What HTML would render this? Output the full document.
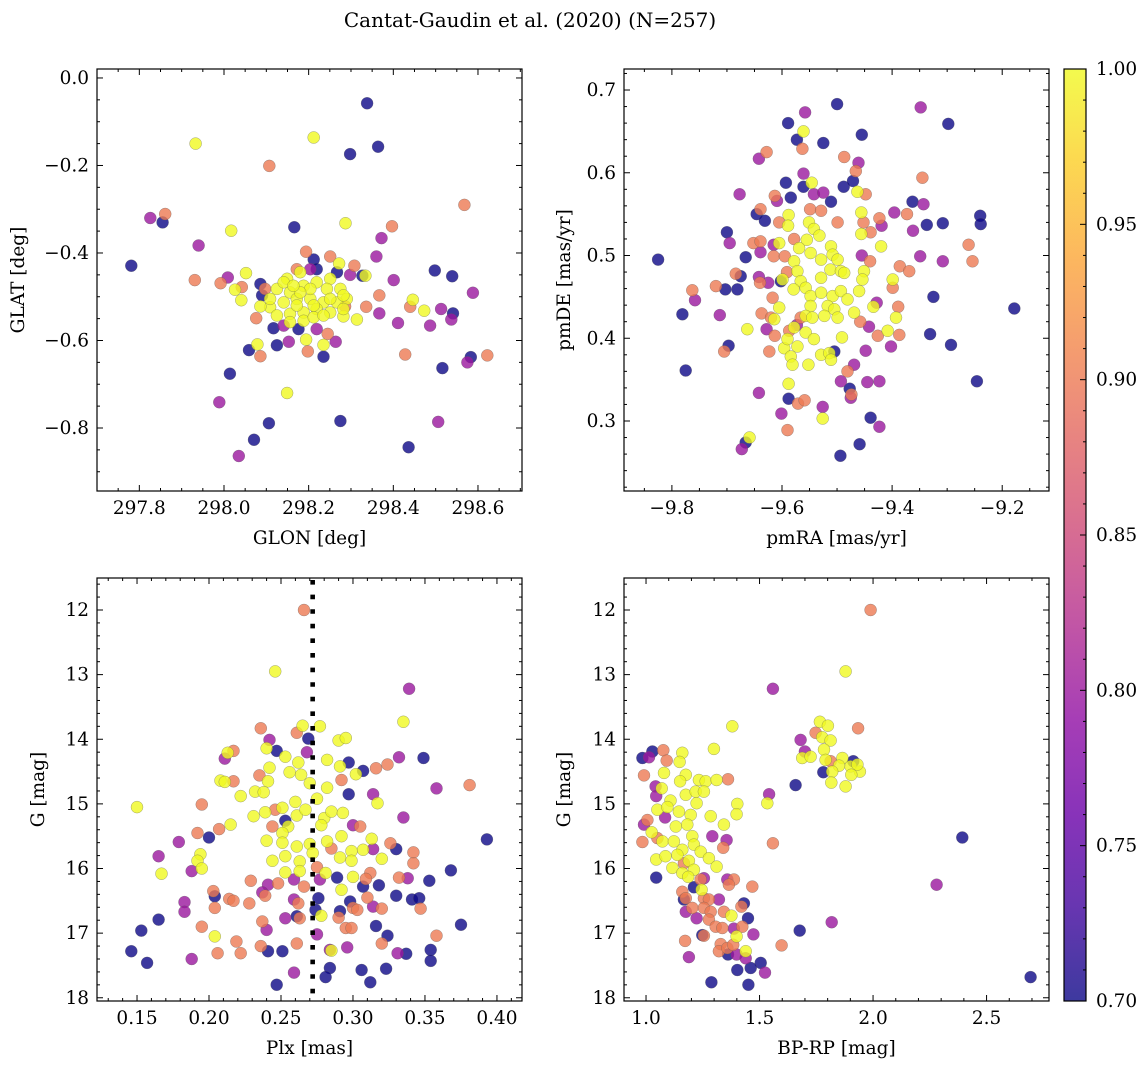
<!DOCTYPE html>
<html><head><meta charset="utf-8">
<style>
html,body{margin:0;padding:0;background:#fff;}
svg{display:block;font-family:"DejaVu Serif","Liberation Serif",serif;}
</style></head>
<body>
<svg id="fig" width="1148" height="1068" viewBox="0 0 1148 1068" xmlns="http://www.w3.org/2000/svg">
<text x="530" y="27" font-size="20" text-anchor="middle">Cantat-Gaudin et al. (2020) (N=257)</text>
</svg>
<script>
// ---------- Panel 1: GLON / GLAT ----------
const glon = [298.338,298.212,297.933,298.298,298.364,298.107,298.568,297.826,297.861,297.855,298.017,298.166,298.287,298.397,298.372,297.940,298.360,297.781,298.498,298.539,298.401,297.931,297.992,298.009,298.052,298.588,298.026,298.041,298.042,
298.272,298.308,298.298,298.327,298.334,298.367,298.336,298.367,298.446,298.440,298.473,298.513,298.541,298.537,298.487,298.411,298.314,298.282,298.079,298.059,298.086,298.125,298.153,298.194,298.198,298.235,298.235,298.264,298.245,298.428,298.516,298.583,298.575,298.622,298.014,298.149,297.989,298.106,298.275,298.506,298.071,298.436,298.035,
298.086,298.090,298.212,298.219,298.267,298.117,298.176,298.194,298.251,298.172,298.097,298.076,298.286,298.204,298.141,298.219,
298.149,298.180,298.125,298.156,298.188,298.219,298.251,298.243,298.275,298.290,298.109,298.141,298.172,298.204,298.235,298.267,298.086,298.125,298.156,298.188,298.219,298.251,298.282,298.156,298.188,298.212,298.172,298.204,298.141,298.235,298.109,298.180,298.251,298.282,298.212,298.164];
const glat = [-0.058,-0.136,-0.150,-0.174,-0.157,-0.201,-0.290,-0.320,-0.311,-0.330,-0.349,-0.341,-0.332,-0.339,-0.366,-0.383,-0.408,-0.429,-0.440,-0.453,-0.462,-0.462,-0.469,-0.456,-0.446,-0.491,-0.484,-0.508,-0.478,
-0.424,-0.429,-0.450,-0.452,-0.452,-0.497,-0.523,-0.538,-0.507,-0.523,-0.532,-0.528,-0.538,-0.552,-0.566,-0.560,-0.552,-0.545,-0.609,-0.622,-0.636,-0.611,-0.603,-0.598,-0.625,-0.637,-0.610,-0.603,-0.585,-0.632,-0.663,-0.638,-0.650,-0.634,-0.676,-0.720,-0.741,-0.789,-0.784,-0.786,-0.827,-0.844,-0.864,
-0.471,-0.497,-0.415,-0.437,-0.444,-0.572,-0.574,-0.397,-0.408,-0.437,-0.482,-0.549,-0.522,-0.437,-0.566,-0.574,
-0.459,-0.444,-0.482,-0.490,-0.475,-0.467,-0.459,-0.482,-0.482,-0.505,-0.524,-0.513,-0.505,-0.505,-0.513,-0.513,-0.522,-0.543,-0.539,-0.536,-0.528,-0.536,-0.528,-0.558,-0.555,-0.547,-0.520,-0.482,-0.467,-0.543,-0.505,-0.490,-0.505,-0.497,-0.520,-0.475];
const prob1 = [0.70,1,1,0.70,0.70,0.90,0.90,0.80,0.90,0.70,1,0.70,1,0.90,0.80,0.80,0.80,0.70,0.70,0.70,0.80,0.90,0.90,0.80,1,0.80,1,1,0.90,
1,0.90,0.80,0.70,1,0.90,0.90,0.80,1,0.90,1,0.80,0.70,0.80,0.80,0.80,1,1,1,0.70,0.90,0.70,0.80,1,0.90,0.70,1,0.80,0.90,0.90,0.70,0.70,0.80,0.90,0.70,1,0.80,0.70,0.70,0.80,0.70,0.70,0.80,
0.70,0.70,0.70,0.70,0.70,0.70,0.70,0.90,0.90,0.90,0.90,0.90,0.90,0.80,0.80,0.80,
1,1,1,1,1,1,1,1,1,1,1,1,1,1,1,1,1,1,1,1,1,1,1,1,1,1,1,1,1,1,1,1,1,1,1,1];

// ---------- Panel 2: pmRA / pmDE ----------
const pmra = [-9.500,-9.348,-9.558,-9.298,-9.589,-9.561,-9.455,-9.573,-9.525,-9.563,-9.628,-9.642,-9.487,-9.461,-9.466,-9.561,-9.345,-9.593,-9.546,-9.561,-9.488,-9.471,-9.677,-9.542,-9.525,-9.463,-9.448,-9.613,-9.584,-9.511,-9.363,-9.343,-9.609,-9.639,-9.646,-9.631,-9.549,-9.529,-9.456,-9.423,-9.396,-9.373,-9.240,-9.239,-9.308,-9.337,-9.419,-9.362,-9.605,-9.588,-9.589,-9.499,-9.452,-9.439,-9.456,-9.700,-9.695,-9.652,-9.639,-9.615,-9.605,-9.578,-9.420,-9.261,-9.825,-9.666,-9.639,-9.615,-9.595,-9.455,-9.440,-9.349,-9.308,-9.254,-9.386,-9.369,-9.684,-9.675,-9.642,-9.625,-9.640,-9.591,-9.602,-9.763,-9.758,-9.720,-9.703,-9.681,-9.325,-9.178,-9.781,-9.713,-9.399,-9.389,-9.428,-9.617,-9.637,-9.620,-9.566,-9.573,-9.663,-9.628,-9.613,-9.587,-9.458,-9.442,-9.426,-9.387,-9.402,-9.331,-9.293,-9.697,-9.705,-9.623,-9.505,-9.448,-9.469,-9.481,-9.775,-9.493,-9.445,-9.423,-9.477,-9.474,-9.475,-9.246,-9.642,-9.588,-9.571,-9.559,-9.526,-9.526,-9.601,-9.439,-9.423,-9.590,-9.659,-9.666,-9.673,-9.459,-9.494,-9.588,
-9.551,-9.542,-9.532,-9.555,-9.569,-9.548,-9.529,-9.511,-9.508,-9.499,-9.512,-9.493,-9.487,-9.529,-9.578,-9.572,-9.566,-9.557,-9.579,-9.548,-9.529,-9.508,-9.493,-9.481,-9.517,-9.505,-9.548,-9.557,-9.545,-9.523,-9.499,-9.469,-9.460,-9.451,-9.454,-9.605,-9.614,-9.599,-9.578,-9.557,-9.542,-9.572,-9.596,-9.584,-9.581,-9.552,-9.529,-9.514,-9.511,-9.491,-9.408,-9.393,-9.399,-9.434,-9.590];
const pmde = [0.683,0.679,0.673,0.659,0.660,0.650,0.646,0.640,0.636,0.629,0.625,0.617,0.619,0.612,0.602,0.599,0.594,0.588,0.588,0.583,0.583,0.590,0.574,0.574,0.576,0.577,0.574,0.572,0.570,0.565,0.565,0.562,0.566,0.556,0.550,0.542,0.556,0.554,0.552,0.545,0.552,0.550,0.548,0.538,0.539,0.537,0.536,0.530,0.540,0.549,0.536,0.540,0.540,0.528,0.526,0.528,0.515,0.515,0.517,0.513,0.515,0.520,0.511,0.513,0.495,0.498,0.504,0.499,0.499,0.500,0.493,0.499,0.493,0.493,0.487,0.481,0.478,0.475,0.474,0.467,0.467,0.480,0.469,0.458,0.446,0.463,0.459,0.459,0.450,0.436,0.429,0.428,0.461,0.438,0.443,0.449,0.430,0.425,0.425,0.416,0.411,0.411,0.403,0.409,0.420,0.414,0.403,0.404,0.390,0.405,0.392,0.391,0.384,0.384,0.384,0.385,0.368,0.360,0.361,0.348,0.347,0.348,0.339,0.332,0.328,0.348,0.334,0.327,0.321,0.325,0.317,0.303,0.309,0.304,0.293,0.289,0.280,0.274,0.266,0.272,0.258,0.345,
0.540,0.532,0.524,0.519,0.509,0.503,0.495,0.511,0.501,0.495,0.483,0.481,0.479,0.473,0.493,0.481,0.469,0.461,0.459,0.451,0.455,0.451,0.457,0.447,0.439,0.435,0.439,0.427,0.425,0.427,0.425,0.431,0.457,0.481,0.471,0.437,0.423,0.471,0.413,0.407,0.399,0.390,0.388,0.378,0.368,0.368,0.380,0.382,0.374,0.401,0.409,0.425,0.471,0.438,0.399];
const prob2 = [0.70,0.80,0.80,0.70,0.70,1,0.70,0.70,0.70,0.90,0.90,0.80,0.90,0.80,0.90,0.80,0.90,0.70,1,0.70,0.70,0.70,0.80,0.80,0.80,1,0.90,0.90,0.70,0.70,0.70,0.80,0.80,0.90,0.70,0.70,0.90,0.90,1,0.90,0.80,0.90,0.70,0.70,0.70,0.70,0.80,0.80,0.90,1,1,0.90,0.90,0.90,1,0.70,0.80,0.90,0.90,0.80,1,0.90,1,0.90,0.70,0.70,0.80,0.90,0.90,0.80,0.90,0.80,0.80,0.90,0.90,0.90,0.90,0.70,0.80,0.80,0.90,0.90,0.70,0.90,0.80,0.90,0.70,0.70,0.70,0.70,0.70,0.80,0.90,0.90,0.80,0.90,0.90,0.90,0.90,0.80,1,0.80,0.90,0.90,0.90,0.80,0.90,0.90,0.80,0.70,0.70,0.70,0.90,0.90,0.70,0.80,0.80,0.90,0.70,0.80,0.80,0.80,0.70,0.90,0.80,0.70,0.80,0.70,0.90,0.90,0.80,1,0.80,0.70,0.80,0.90,1,0.70,0.80,0.70,0.70,1,
1,1,1,1,1,1,1,1,1,1,1,1,1,1,1,1,1,1,1,1,1,1,1,1,1,1,1,1,1,1,1,1,1,1,1,1,1,1,1,1,1,1,1,1,1,1,1,1,1,1,1,1,1,1,1];

// ---------- Panel 3: Plx / G ----------
const plx = [0.266,0.246,0.339,0.335,0.236,0.265,0.277,0.261,0.269,0.242,0.290,0.295,0.247,0.240,0.268,0.217,0.213,0.211,0.332,0.349,0.253,0.262,0.242,0.256,0.264,0.282,0.291,0.297,0.307,0.316,0.324,0.302,0.235,0.208,0.211,0.217,0.241,0.232,0.238,0.292,0.282,0.270,0.381,0.358,0.222,0.297,0.314,0.317,0.275,0.150,0.195,0.231,0.239,0.246,0.251,0.260,0.261,0.267,0.280,0.285,0.293,0.253,0.335,0.215,0.207,0.255,0.244,0.251,0.278,0.300,0.305,0.192,0.200,0.179,0.393,0.240,0.251,0.261,0.270,0.282,0.292,0.285,0.299,0.307,0.313,0.326,0.330,0.314,0.342,0.165,0.194,0.192,0.244,0.253,0.263,0.272,0.291,0.299,0.320,0.342,0.167,0.188,0.195,0.253,0.263,0.275,0.281,0.312,0.368,0.289,0.300,0.309,0.332,0.338,0.353,0.229,0.259,0.277,0.248,0.241,0.266,0.307,0.318,0.292,0.203,0.204,0.237,0.239,0.214,0.217,0.228,0.259,0.262,0.276,0.298,0.310,0.330,0.341,0.346,0.183,0.183,0.204,0.300,0.303,0.291,0.320,0.314,0.347,0.274,0.278,0.253,0.261,0.263,0.290,0.165,0.237,0.195,0.153,0.240,0.295,0.299,0.316,0.375,0.275,0.204,0.324,0.358,0.219,0.236,0.261,0.320,0.146,0.206,0.222,0.241,0.251,0.284,0.285,0.296,0.331,0.337,0.354,0.157,0.188,0.354,0.259,0.284,0.281,0.306,0.323,0.247,0.312];
const gmag3 = [12.00,12.95,13.22,13.73,13.83,13.79,13.80,13.90,13.99,14.01,14.02,13.98,14.18,14.14,14.20,14.18,14.21,14.30,14.28,14.29,14.27,14.36,14.44,14.51,14.55,14.32,14.42,14.36,14.49,14.45,14.39,14.54,14.56,14.64,14.66,14.65,14.65,14.81,14.82,14.63,14.75,14.68,14.71,14.76,14.88,14.85,14.85,14.99,14.92,15.05,15.01,15.19,15.13,15.09,15.06,14.97,15.18,15.09,15.22,15.12,15.14,15.26,15.21,15.32,15.39,15.35,15.35,15.45,15.33,15.33,15.35,15.45,15.52,15.59,15.55,15.57,15.60,15.66,15.62,15.58,15.50,15.69,15.73,15.71,15.54,15.61,15.70,15.70,15.75,15.81,15.78,15.88,15.88,15.81,15.89,15.76,15.83,15.88,15.85,15.92,16.08,16.04,16.00,16.06,16.04,15.98,16.07,16.07,16.03,16.14,16.13,16.16,16.14,16.15,16.19,16.19,16.17,16.17,16.23,16.25,16.28,16.28,16.26,16.33,16.35,16.43,16.37,16.42,16.47,16.50,16.54,16.48,16.54,16.46,16.51,16.45,16.42,16.48,16.46,16.52,16.67,16.61,16.61,16.64,16.66,16.62,16.59,16.62,16.64,16.73,16.77,16.74,16.77,16.76,16.79,16.82,16.90,16.96,16.95,16.92,16.92,16.89,16.87,17.02,17.05,17.04,17.04,17.13,17.20,17.16,17.16,17.28,17.31,17.31,17.28,17.28,17.26,17.27,17.22,17.31,17.32,17.26,17.46,17.40,17.43,17.61,17.54,17.68,17.57,17.55,17.80,17.76];
const prob3 = [0.90,1,0.80,1,0.90,1,1,0.90,0.70,0.80,1,1,0.70,1,0.80,0.90,1,0.80,0.80,0.70,1,1,1,1,1,1,1,0.70,0.70,0.90,0.90,1,0.90,1,1,0.90,1,1,1,0.90,1,1,0.90,0.80,1,0.70,0.80,1,1,1,0.90,1,1,0.90,1,1,1,1,1,1,1,0.70,0.80,1,0.90,1,0.90,1,1,0.80,0.90,0.90,0.70,0.80,0.70,1,1,1,1,1,1,0.90,1,1,1,0.90,0.70,0.80,0.90,0.80,1,1,1,1,1,1,1,1,1,0.90,1,0.80,1,1,1,0.90,1,0.90,0.70,0.70,1,0.90,0.90,0.80,0.70,0.90,0.80,0.80,0.90,0.80,0.90,0.70,0.70,1,0.90,0.70,0.80,0.90,0.90,0.90,0.90,0.80,0.90,0.70,0.70,0.90,0.70,0.70,0.70,0.80,0.80,0.90,0.90,0.90,0.70,0.90,0.80,0.90,0.70,1,0.80,0.70,0.90,0.90,0.70,0.90,0.90,0.70,0.80,0.90,0.90,0.70,0.70,0.80,1,0.70,0.90,0.90,0.90,0.90,0.90,0.70,0.90,0.90,0.70,0.70,0.80,1,0.80,0.80,0.70,0.70,0.70,0.80,0.70,0.80,0.70,0.70,0.70,0.70,0.70,0.70];

// ---------- Panel 4: BP-RP / G ----------
const bprp = [1.989,1.879,1.559,1.380,1.934,1.766,1.801,1.747,1.776,1.813,1.681,1.784,1.700,1.688,1.725,1.791,1.813,1.865,1.913,1.901,1.942,1.931,1.850,1.781,1.820,1.904,1.816,1.879,1.659,1.542,1.534,2.393,1.559,2.280,1.818,1.677,1.597,2.694,
0.984,1.013,1.028,1.076,1.091,1.160,1.148,1.299,0.991,1.079,1.175,1.233,1.263,1.311,1.361,1.042,1.069,1.150,1.045,1.175,1.219,1.255,1.108,1.050,1.094,1.145,1.197,1.223,1.285,1.402,1.399,1.084,1.182,1.131,0.991,1.006,1.343,1.025,0.984,1.050,1.072,1.123,1.204,1.211,1.292,1.355,1.340,1.160,1.241,1.045,1.086,1.138,1.189,1.277,1.311,1.116,1.167,1.211,1.160,1.186,1.045,1.241,1.255,1.387,1.358,1.365,1.468,1.245,1.160,1.211,1.175,1.167,1.255,1.277,1.321,1.204,1.175,1.255,1.285,1.343,1.431,1.420,1.223,1.277,1.376,1.449,1.307,1.336,1.387,1.424,1.248,1.255,1.399,1.473,1.172,1.329,1.321,1.358,1.384,1.361,1.439,1.399,1.189,1.439,1.505,1.461,1.402,1.524,1.288,1.451];
const gmag4 = [12.00,12.95,13.22,13.80,13.83,13.73,13.79,13.90,13.97,14.02,14.01,14.16,14.19,14.29,14.27,14.32,14.34,14.29,14.34,14.42,14.50,14.39,14.41,14.51,14.50,14.55,14.67,14.73,14.71,14.85,14.99,15.52,15.61,16.25,16.83,16.96,17.19,17.68,
14.29,14.28,14.19,14.17,14.33,14.21,14.35,14.15,14.56,14.52,14.55,14.63,14.65,14.63,14.62,14.73,14.76,14.65,14.88,14.86,14.81,14.81,14.95,15.09,15.05,15.12,15.17,14.99,15.19,15.00,15.16,15.21,15.32,15.35,15.32,15.25,15.32,15.44,15.59,15.53,15.58,15.58,15.50,15.63,15.50,15.56,15.68,15.71,15.74,15.86,15.81,15.79,15.88,15.84,15.97,15.99,15.92,16.02,16.07,16.13,16.14,16.17,16.15,16.17,16.17,16.25,16.28,16.33,16.36,16.29,16.46,16.48,16.46,16.48,16.48,16.61,16.67,16.61,16.67,16.67,16.54,16.59,16.77,16.79,16.73,16.77,16.90,16.92,16.93,16.90,17.03,17.04,17.05,17.02,17.12,17.17,17.28,17.23,17.18,17.33,17.28,17.33,17.37,17.39,17.46,17.54,17.57,17.61,17.76,17.80];
const prob4 = [0.90,1,0.80,1,0.90,1,1,0.90,1,1,0.80,1,0.80,1,1,1,0.90,1,0.70,1,1,1,1,0.70,1,1,1,1,0.70,0.80,1,0.70,0.90,0.80,0.80,0.70,0.90,0.70,
0.70,0.80,0.70,0.90,0.90,1,1,1,0.90,1,1,1,1,1,0.90,0.80,1,1,0.80,1,1,1,1,1,1,1,1,1,1,1,1,0.80,1,1,0.80,0.90,1,1,0.90,0.90,1,1,1,1,0.80,0.80,0.90,1,1,1,1,1,1,1,1,1,0.90,1,1,1,0.70,0.90,0.80,0.90,0.80,0.90,0.90,1,0.90,0.70,0.90,0.70,0.90,0.90,0.80,0.90,0.80,0.90,0.90,0.90,0.70,0.90,0.80,0.90,1,0.70,0.90,0.90,0.80,0.90,0.70,0.90,1,0.80,0.90,0.90,0.90,0.90,0.90,0.70,1,0.80,0.80,0.80,0.70,0.70,0.70,0.80,0.70,0.70];

const cbarTicks = [0.70,0.75,0.80,0.85,0.90,0.95,1.00];
const plxMedian = 0.272;

const NS = "http://www.w3.org/2000/svg";
const svg = document.getElementById('fig');
const FS = 18.5;
function el(tag, attrs, parent){
  const e = document.createElementNS(NS, tag);
  for (const k in attrs) e.setAttribute(k, attrs[k]);
  (parent || svg).appendChild(e);
  return e;
}
const plasmaStops = ["#0d0887","#41049d","#6a00a8","#8f0da4","#b12a90","#cc4778","#e16462","#f2844b","#fca636","#fcce25","#f0f921"];
function hex2rgb(h){return [parseInt(h.substr(1,2),16),parseInt(h.substr(3,2),16),parseInt(h.substr(5,2),16)];}
function plasma(t){
  t=Math.max(0,Math.min(1,t));
  const f=t*10, i=Math.min(9,Math.floor(f)), r=f-i;
  const a=hex2rgb(plasmaStops[i]), b=hex2rgb(plasmaStops[i+1]);
  return "rgb("+a.map((v,k)=>Math.round(v+(b[k]-v)*r)).join(",")+")";
}
const vmin=0.70, vmax=1.00;
function fmtNum(v,d){const s=Math.abs(v).toFixed(d);return (v< -1e-9?"\u2212":"")+s;}

function panel(cfg){
  const {name,x0,y0,w,h,xd,yd,xs,ys} = cfg;
  const g = el('g',{});
  
  
  const sx = v => x0 + (v - xd[0])/(xd[1]-xd[0])*w;
  const sy = v => y0 + (yd[1] - v)/(yd[1]-yd[0])*h;
  const idx = cfg.xv.map((_,i)=>i).sort((a,b)=>cfg.pv[a]-cfg.pv[b]);
  const pg = el('g',{},g);
  
  
  idx.forEach(i=>{
    const c = el('circle',{cx:sx(cfg.xv[i]).toFixed(1),cy:sy(cfg.yv[i]).toFixed(1),r:6,fill:plasma((cfg.pv[i]-vmin)/(vmax-vmin)),'fill-opacity':0.8,stroke:'rgba(90,90,90,0.55)','stroke-width':0.5},pg);
    
    
  });
  if (cfg.extra) cfg.extra(g,sx,sy);
  const fr = el('rect',{x:x0,y:y0,width:w,height:h,fill:'none',stroke:'#000','stroke-width':1.2},g);
  
  
  const xt = el('g',{},g);
  
  
  const eps=1e-9;
  for (let v=Math.ceil(xd[0]/xs.minor-eps)*xs.minor; v<=xd[1]+eps; v+=xs.minor){
    const px=sx(v); const isMaj=Math.abs(v/xs.major-Math.round(v/xs.major))<1e-6;
    const L=isMaj?6:3;
    el('line',{x1:px,x2:px,y1:y0+h,y2:y0+h-L,stroke:'#000','stroke-width':1},xt);
    el('line',{x1:px,x2:px,y1:y0,y2:y0+L,stroke:'#000','stroke-width':1},xt);
    if(isMaj){
      const t=el('text',{x:px,y:y0+h+23,'font-size':FS,'text-anchor':'middle'},xt);
      t.textContent=fmtNum(Math.round(v/xs.major)*xs.major,xs.dec);
      
      
    }
  }
  const yt = el('g',{},g);
  
  
  for (let v=Math.ceil(yd[0]/ys.minor-eps)*ys.minor; v<=yd[1]+eps; v+=ys.minor){
    const py=sy(v); const isMaj=Math.abs(v/ys.major-Math.round(v/ys.major))<1e-6;
    const L=isMaj?6:3;
    el('line',{x1:x0,x2:x0+L,y1:py,y2:py,stroke:'#000','stroke-width':1},yt);
    el('line',{x1:x0+w,x2:x0+w-L,y1:py,y2:py,stroke:'#000','stroke-width':1},yt);
    if(isMaj){
      const t=el('text',{x:x0-8,y:py+6,'font-size':FS,'text-anchor':'end'},yt);
      t.textContent=fmtNum(ys.disp(Math.round(v/ys.major)*ys.major),ys.dec);
      
      
    }
  }
  const xl=el('text',{x:x0+w/2,y:y0+h+53,'font-size':FS,'text-anchor':'middle'},g);
  xl.textContent=cfg.xlabel;
  
  
  const yl=el('text',{x:cfg.ylx,y:y0+h/2,'font-size':FS,'text-anchor':'middle',transform:'rotate(-90 '+cfg.ylx+' '+(y0+h/2)+')'},g);
  yl.textContent=cfg.ylabel;
  
  
}

const id = v=>v;
panel({name:'glon-glat-panel',x0:97,y0:69,w:425,h:422,xd:[297.70,298.704],yd:[-0.944,0.0205],
  xs:{major:0.2,minor:0.05,dec:1},ys:{major:0.2,minor:0.05,dec:1,disp:id},
  xv:glon,yv:glat,pv:prob1,xlabel:'GLON [deg]',ylabel:'GLAT [deg]',ylx:24});
panel({name:'pm-panel',x0:624,y0:69,w:425,h:422,xd:[-9.887,-9.115],yd:[0.2154,0.7254],
  xs:{major:0.2,minor:0.05,dec:1},ys:{major:0.1,minor:0.02,dec:1,disp:id},
  xv:pmra,yv:pmde,pv:prob2,xlabel:'pmRA [mas/yr]',ylabel:'pmDE [mas/yr]',ylx:570});
const negG3 = gmag3.map(v=>-v), negG4 = gmag4.map(v=>-v);
panel({name:'plx-g-panel',x0:97,y0:578,w:425,h:423,xd:[0.1222,0.4174],yd:[-18.05,-11.505],
  xs:{major:0.05,minor:0.01,dec:2},ys:{major:1,minor:0.2,dec:0,disp:v=>-v},
  xv:plx,yv:negG3,pv:prob3,xlabel:'Plx [mas]',ylabel:'G [mag]',ylx:44,
  extra:(g,sx,sy)=>{
    const l=el('line',{x1:sx(plxMedian),x2:sx(plxMedian),y1:580,y2:1001,stroke:'#000','stroke-width':4.6,'stroke-dasharray':'4.6 10'},g);
    
    
  }});
panel({name:'cmd-panel',x0:624,y0:578,w:425,h:423,xd:[0.903,2.775],yd:[-18.05,-11.505],
  xs:{major:0.5,minor:0.1,dec:1},ys:{major:1,minor:0.2,dec:0,disp:v=>-v},
  xv:bprp,yv:negG4,pv:prob4,xlabel:'BP-RP [mag]',ylabel:'G [mag]',ylx:570});

const cb = el('g',{});


const defs = el('defs',{},cb);
const lg = el('linearGradient',{id:'pl',x1:0,y1:1,x2:0,y2:0},defs);
for(let i=0;i<=20;i++){el('stop',{offset:(i/20),'stop-color':plasma(i/20)},lg);}
const cbx=1064, cby=69, cbw=22, cbh=932;
el('rect',{x:cbx,y:cby,width:cbw,height:cbh,fill:'url(#pl)','fill-opacity':0.8},cb);
el('rect',{x:cbx,y:cby,width:cbw,height:cbh,fill:'none',stroke:'#000','stroke-width':1.2},cb);
const cs = v => cby + (vmax - v)/(vmax-vmin)*cbh;
for(let k=0;k<=30;k++){
  const v=vmin+k*0.01, py=cs(v), maj=(k%5===0);
  el('line',{x1:cbx+cbw,x2:cbx+cbw-(maj?6:3),y1:py,y2:py,stroke:'#000','stroke-width':1},cb);
}
cbarTicks.forEach(v=>{
  const t=el('text',{x:cbx+cbw+10,y:cs(v)+6,'font-size':FS},cb);
  t.textContent=v.toFixed(2);
  
  
});
</script>
</body></html>
